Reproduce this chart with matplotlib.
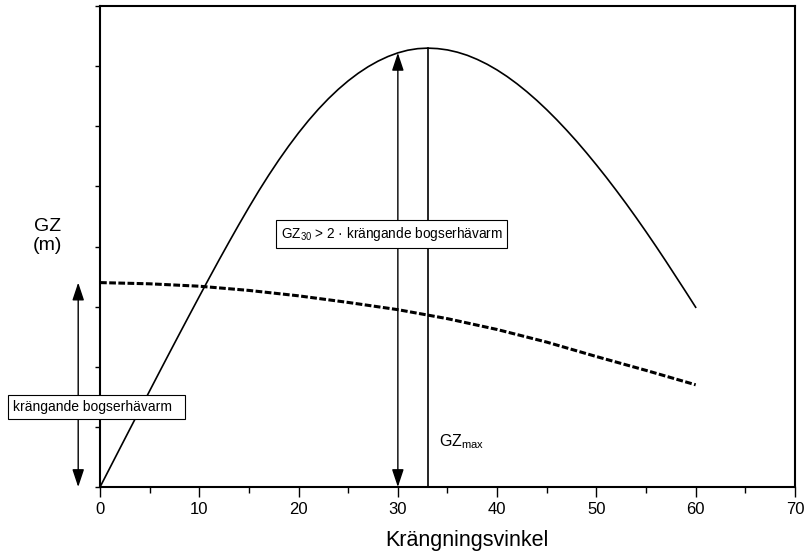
import numpy as np
import matplotlib
matplotlib.use("Agg")
import matplotlib.pyplot as plt
import matplotlib.transforms as mtrans

plt.rcParams['font.family'] = ['Liberation Sans', 'DejaVu Sans']
plt.rcParams['mathtext.default'] = 'regular'

# GZ curve (righting lever), one value per degree
gz_angle = list(range(0, 61))
gz_value = [0.000, 0.321, 0.642, 0.962, 1.281, 1.600, 1.918, 2.234, 2.548, 2.860,
            3.170, 3.477, 3.780, 4.077, 4.369, 4.653, 4.928, 5.189, 5.437, 5.671,
            5.891, 6.096, 6.285, 6.458, 6.615, 6.756, 6.881, 6.990, 7.083, 7.160,
            7.221, 7.265, 7.291, 7.300, 7.292, 7.270, 7.232, 7.180, 7.112, 7.031,
            6.936, 6.828, 6.707, 6.574, 6.430, 6.275, 6.110, 5.935, 5.752, 5.559,
            5.358, 5.150, 4.934, 4.712, 4.482, 4.246, 4.004, 3.756, 3.502, 3.248,
            2.990]

# heeling lever (tow), dashed
heel_angle = [0, 5, 10, 15, 20, 25, 30, 35, 40, 45, 50, 55, 60]
heel_value = [3.40, 3.38, 3.34, 3.27, 3.18, 3.07, 2.95, 2.80, 2.62, 2.41, 2.17, 1.94, 1.70]

gz30_angle = 30
gzmax_angle = 33
xticks = [0, 10, 20, 30, 40, 50, 60, 70]

fig = plt.figure(figsize=(8.12, 5.53), dpi=100)
ax = fig.add_axes([0.1232, 0.1193, 0.8558, 0.8698])

ax.plot(gz_angle, gz_value, color='black', lw=1.2)
ax.plot(heel_angle, heel_value, color='black', lw=2.2, ls=(0, (2.2, 0.8)))

gz30 = np.interp(gz30_angle, gz_angle, gz_value)
gzmax = np.interp(gzmax_angle, gz_angle, gz_value)

# vertical line at GZmax
ax.plot([gzmax_angle, gzmax_angle], [0, gzmax], color='black', lw=1.2)

# double arrows
arr = dict(arrowstyle='<|-|>,head_length=0.9,head_width=0.3', color='black',
           lw=1.0, mutation_scale=12, shrinkA=0, shrinkB=0)
ax.annotate('', xy=(gz30_angle, gz30), xytext=(gz30_angle, 0), arrowprops=arr)
ax.annotate('', xy=(-2.2, heel_value[0]), xytext=(-2.2, 0), arrowprops=arr,
            annotation_clip=False)

box = dict(boxstyle='square,pad=0.35', fc='white', ec='black', lw=0.8)
ax.text(-8.76, 1.33, 'krängande bogserhävarm  ', fontsize=10,
        va='center', ha='left', bbox=box, clip_on=False)
ax.text(18.2, 4.21, 'GZ$_{30}$ > 2 · krängande bogserhävarm', fontsize=9.8,
        va='center', ha='left', bbox=box)
ax.text(34.1, 0.75, 'GZ$_{max}$', fontsize=11.5, va='center', ha='left')

ax.set_xlim(0, 70)
ax.set_ylim(0, 8)
ax.set_xticks(xticks)
ax.set_xticks(np.arange(5, 70, 10), minor=True)
ax.set_yticks(np.arange(0, 9, 1))
ax.set_yticklabels([])
ax.tick_params(axis='x', which='major', direction='out', length=7, width=1,
               labelsize=12, pad=4)
ax.tick_params(axis='x', which='minor', direction='out', length=4.3, width=1)
ax.tick_params(axis='y', which='major', direction='out', length=3.6, width=1)
for s in ax.spines.values():
    s.set_linewidth(1.5)

# x label, sits a bit right of centre in the original
trans = mtrans.blended_transform_factory(ax.transData, fig.transFigure)
ax.text(37, 0.013, 'Krängningsvinkel', fontsize=15.5, ha='center',
        va='baseline', transform=trans)
fig.text(0.058, 0.573, 'GZ\n(m)', fontsize=14, ha='center', va='center',
         linespacing=1.1)

fig.savefig('out.png', dpi=100)
